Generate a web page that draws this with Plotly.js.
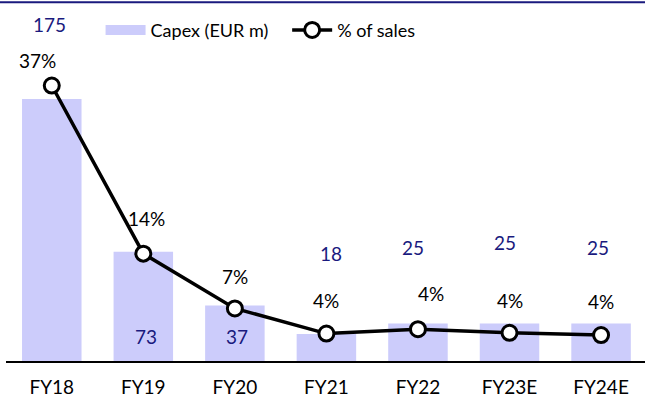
<!DOCTYPE html>
<html>
<head>
<meta charset="utf-8">
<script src="https://cdn.plot.ly/plotly-3.0.1.min.js"></script>
<style>html,body{margin:0;padding:0;background:#fff}#chart{width:645px;height:401px}</style>
</head>
<body>
<div id="chart"></div>
<script>
// Data
const categories = ["FY18", "FY19", "FY20", "FY21", "FY22", "FY23E", "FY24E"];
const capex = [175, 73, 37, 18, 25, 25, 25];
const pctSales = [37.2, 14.5, 7.1, 3.7, 4.3, 3.8, 3.5];
const pctLabels = ["37%", "14%", "7%", "4%", "4%", "4%", "4%"];

// Label placement (layout only)
const capexLabelY = [225, 16.7, 16.7, 71.5, 75.5, 79.5, 76];
const capexLabelDx = [-2, 3, 2, 5, -5, -5, -3];
const pctLabelDx = [-14, 3, 0, 0, 13, 0, 0];
const pctLabelDy = [25, 35, 32, 33, 36, 32, 34];

const NAVY = "#1a1a7e";
const BAR = "#ccccfb";
const FONT = "Lato, 'Noto Sans', sans-serif";

const bars = {
  type: "bar", name: "Capex (EUR m)", x: categories, y: capex,
  marker: {color: BAR, line: {width: 0}}, width: 0.65,
  hoverinfo: "skip", showlegend: false
};
// legend-only swatch for the bar series (wide flat rectangle as in the reference)
const barKey = {
  type: "scatter", mode: "lines", name: "Capex (EUR m)", x: [null], y: [null],
  line: {color: BAR, width: 10}, hoverinfo: "skip", legend: "legend", showlegend: true
};
const line = {
  type: "scatter", mode: "lines+markers", name: "% of sales", x: categories, y: pctSales,
  yaxis: "y2", line: {color: "#000", width: 3.5},
  marker: {size: 15, color: "#fff", line: {color: "#000", width: 3}},
  hoverinfo: "skip", legend: "legend2"
};

const annotations = [];
categories.forEach((c, i) => {
  annotations.push({x: c, y: capexLabelY[i], xref: "x", yref: "y", text: String(capex[i]),
    showarrow: false, xshift: capexLabelDx[i], font: {family: FONT, size: 19, color: NAVY}});
  annotations.push({x: c, y: pctSales[i], xref: "x", yref: "y2", text: pctLabels[i],
    showarrow: false, xshift: pctLabelDx[i], yshift: pctLabelDy[i], font: {family: FONT, size: 19, color: "#000"}});
});

const layout = {
  width: 645, height: 401,
  margin: {l: 6, r: 0, t: 10, b: 40},
  paper_bgcolor: "#fff", plot_bgcolor: "#fff",
  font: {family: FONT, size: 19, color: "#000"},
  xaxis: {type: "category", range: [-0.5, 6.48], showline: true, linecolor: "#000", linewidth: 2,
    ticks: "", showgrid: false, zeroline: false, ticklabelstandoff: 8,
    tickfont: {family: FONT, size: 19, color: "#000"}, fixedrange: true},
  yaxis: {range: [0, 234.5], visible: false, showgrid: false, zeroline: false, fixedrange: true},
  yaxis2: {range: [0, 47.4], overlaying: "y", visible: false, showgrid: false, zeroline: false, fixedrange: true},
  showlegend: true,
  legend: {orientation: "h", x: 0.148, y: 0.995, xanchor: "left", yanchor: "top", bgcolor: "rgba(0,0,0,0)",
    font: {family: FONT, size: 18, color: "#000"}, itemwidth: 40},
  legend2: {orientation: "h", x: 0.44, y: 0.995, xanchor: "left", yanchor: "top", bgcolor: "rgba(0,0,0,0)",
    font: {family: FONT, size: 18, color: "#000"}, itemwidth: 40},
  shapes: [{type: "line", xref: "paper", yref: "paper", x0: -0.02, x1: 1.0, y0: 1.022, y1: 1.022,
    line: {color: NAVY, width: 2}}],
  annotations: annotations
};

Plotly.newPlot("chart", [bars, barKey, line], layout, {displayModeBar: false, staticPlot: true});
</script>
</body>
</html>
